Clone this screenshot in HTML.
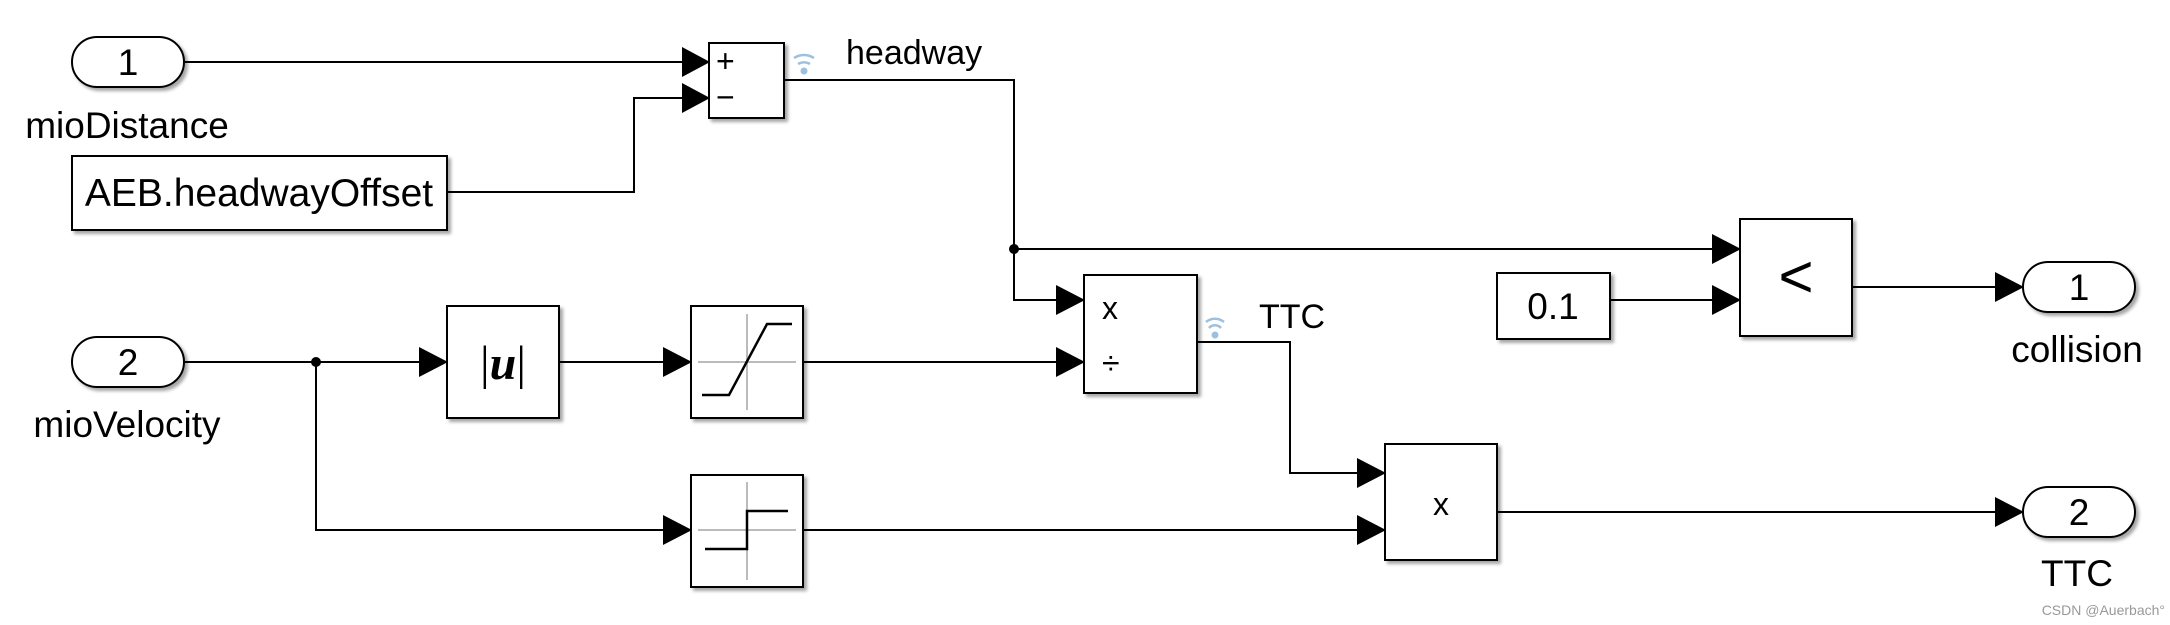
<!DOCTYPE html>
<html><head><meta charset="utf-8"><style>
html,body{margin:0;padding:0;background:#fff;}
svg{display:block;}
text{font-family:"Liberation Sans",sans-serif;fill:#000;}
</style></head><body>
<svg width="2170" height="625" viewBox="0 0 2170 625" xmlns="http://www.w3.org/2000/svg">
<defs>
<filter id="sh" x="-10%" y="-10%" width="130%" height="130%"><feDropShadow dx="3" dy="3" stdDeviation="1.5" flood-color="#000" flood-opacity="0.35"/></filter>
</defs>
<g fill="none" stroke="#000" stroke-width="2">
<path d="M184 62 H684"/>
<path d="M447 192 H634 V98 H684"/>
<path d="M784 80 H1014 V300 H1058"/>
<path d="M1014 249 H1714"/>
<path d="M1610 300 H1714"/>
<path d="M1852 287 H1997"/>
<path d="M184 362 H421"/>
<path d="M316 362 V530 H665"/>
<path d="M559 362 H665"/>
<path d="M803 362 H1058"/>
<path d="M1197 342 H1290 V473 H1359"/>
<path d="M803 530 H1359"/>
<path d="M1497 512 H1997"/>
</g>
<circle cx="1014" cy="249" r="5"/>
<circle cx="316" cy="362" r="5"/>
<g fill="#000">
<polygon points="682,47 710,62 682,77"/>
<polygon points="682,83 710,98 682,113"/>
<polygon points="1056,285 1085,300 1056,315"/>
<polygon points="1056,347 1085,362 1056,377"/>
<polygon points="1712,234 1741,249 1712,264"/>
<polygon points="1712,285 1741,300 1712,315"/>
<polygon points="1995,272 2024,287 1995,302"/>
<polygon points="419,347 448,362 419,377"/>
<polygon points="663,347 692,362 663,377"/>
<polygon points="663,515 692,530 663,545"/>
<polygon points="1357,458 1386,473 1357,488"/>
<polygon points="1357,515 1386,530 1357,545"/>
<polygon points="1995,497 2024,512 1995,527"/>
</g>
<g fill="#fff" stroke="#000" stroke-width="2" filter="url(#sh)">
<rect x="72" y="37" width="112" height="50" rx="25"/>
<rect x="72" y="337" width="112" height="50" rx="25"/>
<rect x="72" y="156" width="375" height="74"/>
<rect x="709" y="43" width="75" height="75"/>
<rect x="447" y="306" width="112" height="112"/>
<rect x="691" y="306" width="112" height="112"/>
<rect x="691" y="475" width="112" height="112"/>
<rect x="1084" y="275" width="113" height="118"/>
<rect x="1385" y="444" width="112" height="116"/>
<rect x="1497" y="273" width="113" height="66"/>
<rect x="1740" y="219" width="112" height="117"/>
<rect x="2023" y="262" width="112" height="50" rx="25"/>
<rect x="2023" y="487" width="112" height="50" rx="25"/>
</g>
<g stroke="#bbb" stroke-width="2"><path d="M747 314 V410 M698 362 H796"/><path d="M747 482 V580 M698 530 H796"/></g>
<g stroke="#000" stroke-width="2.5" fill="none"><path d="M702 395 H729 L767 324 H792"/><path d="M705 549 H747 V511 H788"/></g>
<g stroke="#9cc0e0" stroke-width="2.5" fill="none">
<path d="M794 58 A18 18 0 0 1 814 58"/><path d="M798 64 A12 12 0 0 1 810 64"/>
<path d="M1206 322 A14 14 0 0 1 1224 322"/><path d="M1209 328 A8 8 0 0 1 1221 328"/>
</g>
<circle cx="804" cy="71" r="3.5" fill="#9cc0e0"/>
<circle cx="1215" cy="335" r="3.5" fill="#9cc0e0"/>
<g font-size="37">
<text x="128" y="75" text-anchor="middle">1</text>
<text x="128" y="375" text-anchor="middle">2</text>
<text x="2079" y="300" text-anchor="middle">1</text>
<text x="2079" y="525" text-anchor="middle">2</text>
<text x="127" y="138" text-anchor="middle">mioDistance</text>
<text x="127" y="437" text-anchor="middle">mioVelocity</text>
<text x="2077" y="362" text-anchor="middle">collision</text>
<text x="2077" y="586" text-anchor="middle">TTC</text>
<text x="1553" y="319" text-anchor="middle">0.1</text>
</g>
<g font-size="34">
<text x="846" y="64">headway</text>
<text x="1259" y="328">TTC</text>
</g>
<text x="259" y="206" text-anchor="middle" font-size="39">AEB.headwayOffset</text>
<text x="716" y="72" font-size="32">+</text>
<text x="716" y="108" font-size="32">−</text>
<text x="1102" y="319" font-size="32">x</text>
<text x="1102" y="374" font-size="32">÷</text>
<text x="1441" y="515" text-anchor="middle" font-size="32">x</text>
<text x="1796" y="297" text-anchor="middle" font-size="60" font-weight="normal">&lt;</text>
<text x="503" y="379" text-anchor="middle" font-size="48" style="font-family:'Liberation Serif',serif">|<tspan font-style="italic" font-weight="bold">u</tspan>|</text>
<text x="2165" y="615" text-anchor="end" font-size="14" style="fill:#999">CSDN @Auerbach°</text>
</svg>
</body></html>
